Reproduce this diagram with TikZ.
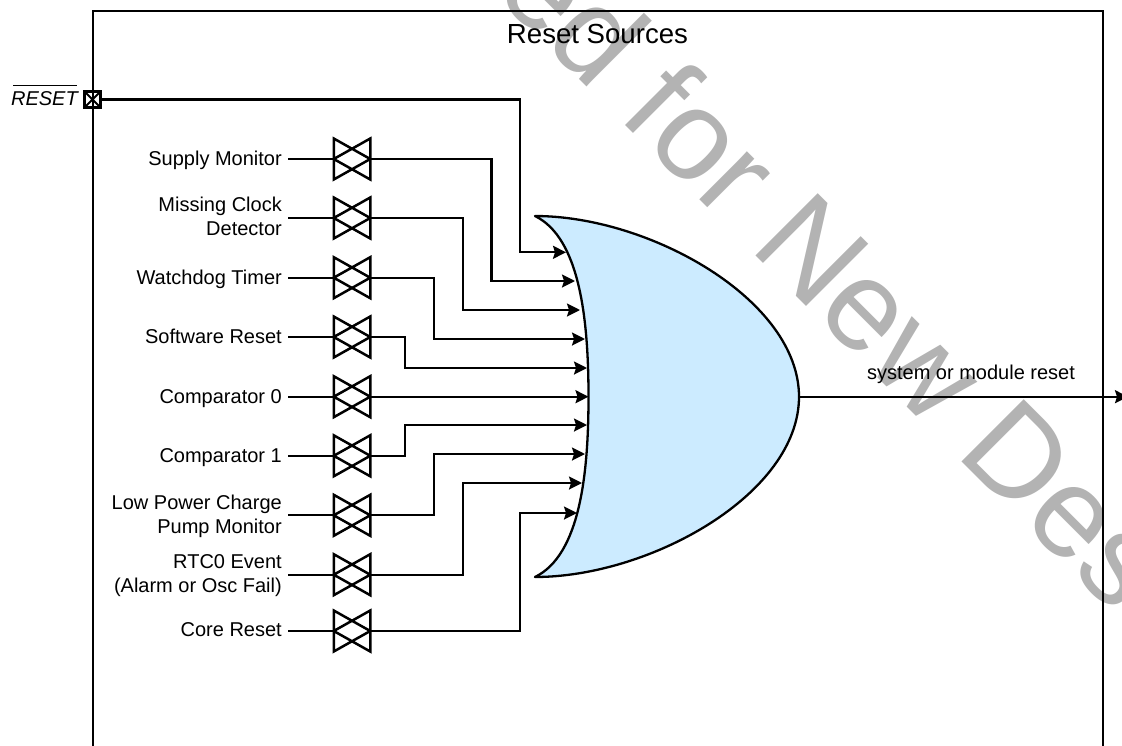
\documentclass[tikz,border=0pt]{standalone}
\usepackage{fontspec}
\setmainfont{Liberation Sans}
\usetikzlibrary{arrows.meta}
\definecolor{gatefill}{HTML}{CCEBFF}
\definecolor{wmark}{HTML}{B3B3B3}
\tikzset{
  wire/.style={draw=black,line width=2.2pt},
  arrowwire/.style={wire,-{Stealth[length=13pt,width=13pt,inset=2pt]}},
  tgatebox/.style={minimum width=36.5pt,minimum height=41pt,inner sep=0pt,outer sep=0pt},
  srclabel/.style={anchor=base east,inner sep=0pt,font=\fontsize{20}{24}\selectfont},
  biglabel/.style={anchor=base,inner sep=0pt,font=\fontsize{27.6}{32}\selectfont},
  outlabel/.style={anchor=base,inner sep=0pt,font=\fontsize{20}{24}\selectfont},
  watermark/.style={anchor=base west,inner sep=0pt,rotate=-45,text=wmark,font=\fontsize{128}{134}\selectfont}
}
\newcommand{\twolines}[2]{\vbox{\halign{\hfill##\cr #1\cr #2\cr}}}
\newcommand{\tgatesrc}[4]{%
  \node[tgatebox] (g#1) at (352,#2) {};
  \draw[wire,line width=2.5pt,line join=miter] (g#1.north west) -- (g#1.east) -- (g#1.south west) -- cycle
        (g#1.north east) -- (g#1.west) -- (g#1.south east) -- cycle;
  \node[srclabel] (s#1) at (282,#3) {#4};
  \coordinate (t#1) at (288,#2);
  \draw[wire] (t#1) -- (g#1.west);
}
\begin{document}
\begin{tikzpicture}[x=1pt,y=-1pt]
\useasboundingbox (0,0) rectangle (1122,745);
\begin{scope}
\clip (0,0) rectangle (1122,745);
\node[watermark] (wm) at (492,-8) {ed for New Des};
% frame
\draw[wire] (93,746) -- (93,11) -- (1103,11) -- (1103,746);
\node[biglabel] (title) at (597.5,43.5) {Reset Sources};
% gate
\coordinate (gA) at (535,216);
\coordinate (gB) at (535,577);
\coordinate (gM) at (588.5,396.7);
\coordinate (gO) at (799,396.7);
\draw[line width=2.3pt,fill=gatefill,line join=round,line cap=round]
  (gA) .. controls (650,216) and (799,300) .. (gO)
       .. controls (799,494) and (650,577) .. (gB)
       .. controls (580,555) and (588.5,474) .. (gM)
       .. controls (588.5,320) and (580,238) .. cycle;
% RESET pin
\node[draw,line width=2.8pt,minimum size=16.5pt,inner sep=0pt,outer sep=0pt] (rst) at (92.5,99.5) {};
\draw[line width=2.1pt] (rst.north west) -- (rst.south east) (rst.north east) -- (rst.south west);
\node[anchor=base east,inner sep=0pt,font=\fontsize{20}{24}\selectfont] (rstl) at (78,105.7) {\rlap{\hspace{2pt}\rule[20pt]{64pt}{1.1pt}}\itshape RESET};
% sources
\tgatesrc{1}{159}{165.7}{Supply Monitor}
\tgatesrc{2}{218}{235.7}{\twolines{Missing Clock}{Detector}}
\tgatesrc{3}{277.7}{284}{Watchdog Timer}
\tgatesrc{4}{337}{343}{Software Reset}
\tgatesrc{5}{396.7}{403}{Comparator 0}
\tgatesrc{6}{455.8}{462}{Comparator 1}
\tgatesrc{7}{515.3}{533}{\twolines{Low Power Charge}{Pump Monitor}}
\tgatesrc{8}{574.7}{592.7}{\twolines{RTC0 Event}{(Alarm or Osc Fail)}}
\tgatesrc{9}{631}{636.7}{Core Reset}
% gate inputs
\coordinate (i0) at (566,252.3);
\coordinate (i1) at (575,281);
\coordinate (i2) at (580,310);
\coordinate (i3) at (585,339);
\coordinate (i4) at (587,368);
\coordinate (i5) at (588.5,396.7);
\coordinate (i6) at (587,425);
\coordinate (i7) at (585,454);
\coordinate (i8) at (582,483);
\coordinate (i9) at (577,513);
% bends
\coordinate (v0) at (520,252.3);
\coordinate (v1) at (491.5,281);
\coordinate (v2) at (463,310);
\coordinate (v3) at (434,339);
\coordinate (v4) at (405,368);
\coordinate (v6) at (405,425);
\coordinate (v7) at (434,454);
\coordinate (v8) at (463,483);
\coordinate (v9) at (520,513);
\draw[arrowwire] (rst.east) -| (v0) -- (i0);
\draw[arrowwire] (g1.east) -| (v1) -- (i1);
\draw[arrowwire] (g2.east) -| (v2) -- (i2);
\draw[arrowwire] (g3.east) -| (v3) -- (i3);
\draw[arrowwire] (g4.east) -| (v4) -- (i4);
\draw[arrowwire] (g5.east) -- (i5);
\draw[arrowwire] (g6.east) -| (v6) -- (i6);
\draw[arrowwire] (g7.east) -| (v7) -- (i7);
\draw[arrowwire] (g8.east) -| (v8) -- (i8);
\draw[arrowwire] (g9.east) -| (v9) -- (i9);
% output
\coordinate (out) at (1128,396.7);
\draw[arrowwire] (gO) -- (out);
\node[outlabel] (outl) at (971,379) {system or module reset};
\end{scope}
\end{tikzpicture}
\end{document}
